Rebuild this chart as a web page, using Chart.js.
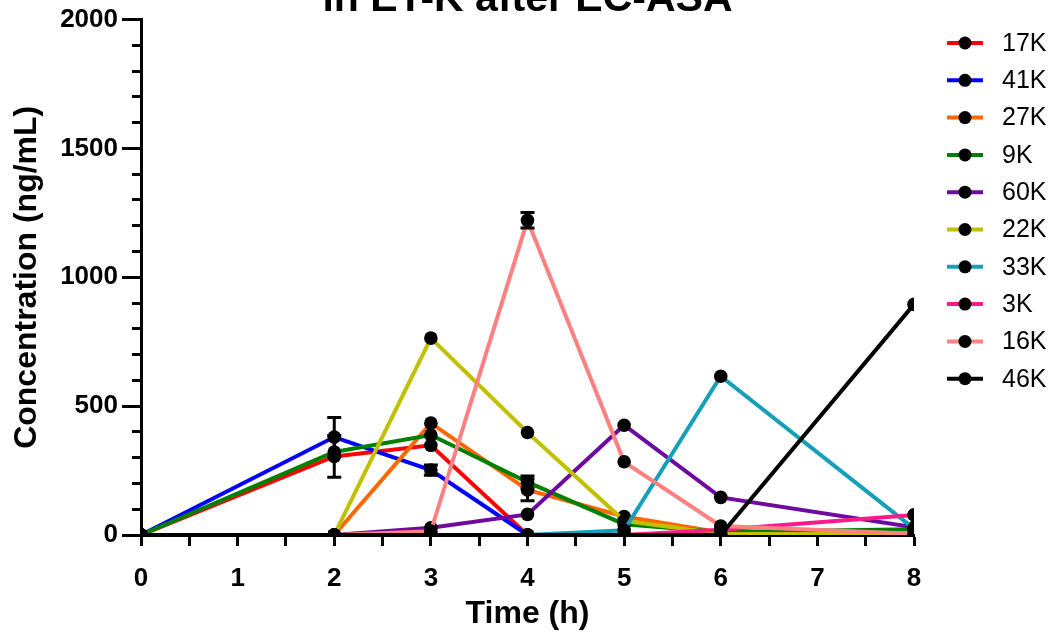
<!DOCTYPE html>
<html>
<head>
<meta charset="utf-8">
<script src="https://cdn.jsdelivr.net/npm/chart.js@4/dist/chart.umd.min.js"></script>
<style>
  html, body { margin: 0; padding: 0; background: #fff; }
  #wrap { width: 1057px; height: 635px; position: relative; }
</style>
</head>
<body>
<div id="wrap"><canvas id="chart"></canvas></div>
<script>
// sampling times (h)
const times = [0, 2, 3, 4, 5, 6, 8];

// concentrations (ng/mL) per subject
const c17K = [0, 305, 348, 0, 0, 0, 0];
const c41K = [0, 380, 252, 0, 0, 0, 0];
const c27K = [0, 0, 434, 175, 72, 10, 5];
const c9K  = [0, 322, 388, 205, 42, 12, 22];
const c60K = [0, 0, 28, 80, 426, 146, 30];
const c22K = [0, 0, 764, 398, 55, 5, 3];
const c33K = [0, 0, 0, 0, 18, 616, 25];
const c3K  = [0, 0, 0, 0, 0, 20, 78];
const c16K = [0, 0, 15, 1221, 284, 35, 5];
const c46K = [0, 0, 0, 0, 0, 0, 895];

// error bar half-widths (null = no bar)
const e17K = [null, 81, null, null, null, null, null];
const e41K = [null, 76, 20, null, null, null, null];
const e27K = [null, null, null, 42, null, null, null];
const e9K  = [null, null, null, 24, null, null, null];
const e16K = [null, null, null, 30, null, null, null];

const labels = ['17K', '41K', '27K', '9K', '60K', '22K', '33K', '3K', '16K', '46K'];
const colors = ['#ff0000', '#0000ff', '#ff6600', '#008000', '#6f0aa0',
                '#c0c000', '#169fb8', '#ff1a8c', '#ff8080', '#000000'];
const values = [c17K, c41K, c27K, c9K, c60K, c22K, c33K, c3K, c16K, c46K];
const errors = [e17K, e41K, e27K, e9K, null, null, null, null, e16K, null];

const FONT = "'Liberation Sans', Arial, sans-serif";

const datasets = labels.map((name, i) => ({
    label: name,
    data: times.map((t, j) => ({ x: t, y: values[i][j] })),
    xAxisID: 'x',
    yAxisID: 'y',
    borderColor: colors[i],
    backgroundColor: colors[i],
    borderWidth: 4,
    pointRadius: 6.8,
    pointBackgroundColor: '#000',
    pointBorderWidth: 0,
    tension: 0,
    order: -i
}));

// black error bars with caps
const errorBars = {
    id: 'errorBars',
    afterDatasetsDraw(chart) {
        const { ctx, scales: { x, y } } = chart;
        ctx.save();
        ctx.strokeStyle = '#000';
        ctx.lineWidth = 3;
        errors.forEach((errs, i) => {
            if (!errs) return;
            errs.forEach((e, j) => {
                if (e == null) return;
                const px = x.getPixelForValue(times[j]);
                const top = y.getPixelForValue(values[i][j] + e);
                const bot = y.getPixelForValue(values[i][j] - e);
                ctx.beginPath();
                ctx.moveTo(px, top); ctx.lineTo(px, bot);
                ctx.moveTo(px - 7, top); ctx.lineTo(px + 7, top);
                ctx.moveTo(px - 7, bot); ctx.lineTo(px + 7, bot);
                ctx.stroke();
            });
        });
        ctx.restore();
    }
};

// title cut at the top edge + legend on the right
const decorations = {
    id: 'decorations',
    afterDraw(chart) {
        const { ctx, chartArea } = chart;
        ctx.save();
        ctx.fillStyle = '#000';
        ctx.font = 'bold 41px ' + FONT;
        ctx.textAlign = 'center';
        ctx.textBaseline = 'alphabetic';
        ctx.fillText('in ET-K after EC-ASA', (chartArea.left + chartArea.right) / 2, 11);

        ctx.font = '25px ' + FONT;
        ctx.textAlign = 'left';
        ctx.textBaseline = 'middle';
        labels.forEach((name, i) => {
            const yy = 43 + i * 37.3;
            ctx.strokeStyle = colors[i];
            ctx.lineWidth = 4;
            ctx.beginPath();
            ctx.moveTo(947, yy); ctx.lineTo(983, yy);
            ctx.stroke();
            ctx.fillStyle = '#000';
            ctx.beginPath();
            ctx.arc(965, yy, 6.5, 0, Math.PI * 2);
            ctx.fill();
            ctx.fillText(name, 1002, yy + 1);
        });
        ctx.restore();
    }
};

new Chart(document.getElementById('chart'), {
    type: 'line',
    data: { datasets },
    plugins: [errorBars, decorations],
    options: {
        responsive: true,
        maintainAspectRatio: false,
        animation: false,
        layout: { padding: { top: 19, right: 143, left: 0, bottom: 0 } },
        plugins: {
            legend: { display: false },
            tooltip: { enabled: false }
        },
        scales: {
            x: {
                type: 'linear',
                min: 0, max: 8,
                afterFit: (s) => { s.height = 100; },
                border: { display: true, color: '#000', width: 3 },
                grid: { drawOnChartArea: false, color: '#000', tickColor: '#000', tickWidth: 3, tickLength: 11 },
                ticks: {
                    stepSize: 0.5, autoSkip: false, maxRotation: 0, padding: 17,
                    color: '#000', font: { family: FONT, size: 26, weight: 'bold' },
                    callback: (v) => (v % 1 === 0 ? String(v) : '')
                },
                title: {
                    display: true, text: 'Time (h)', color: '#000',
                    font: { family: FONT, size: 32, weight: 'bold' },
                    padding: { top: 0, bottom: 2 }
                }
            },
            yMinor: {
                min: 0, max: 2000,
                position: 'left',
                afterFit: (s) => { s.width = 0; },
                border: { display: false },
                grid: { drawOnChartArea: false, tickColor: '#000', tickWidth: 3, tickLength: 9 },
                ticks: { stepSize: 100, display: false }
            },
            y: {
                min: 0, max: 2000,
                position: 'left',
                afterFit: (s) => { s.width = 141; },
                border: { display: true, color: '#000', width: 3 },
                grid: { drawOnChartArea: false, color: '#000', tickColor: '#000', tickWidth: 3, tickLength: 19 },
                ticks: {
                    stepSize: 500, padding: 4,
                    color: '#000', font: { family: FONT, size: 26, weight: 'bold' },
                    callback: (v) => String(v)
                },
                title: {
                    display: true, text: 'Concentration (ng/mL)', color: '#000',
                    font: { family: FONT, size: 32, weight: 'bold' },
                    padding: { top: 8, bottom: 0 }
                }
            }
        }
    }
});
</script>
</body>
</html>
